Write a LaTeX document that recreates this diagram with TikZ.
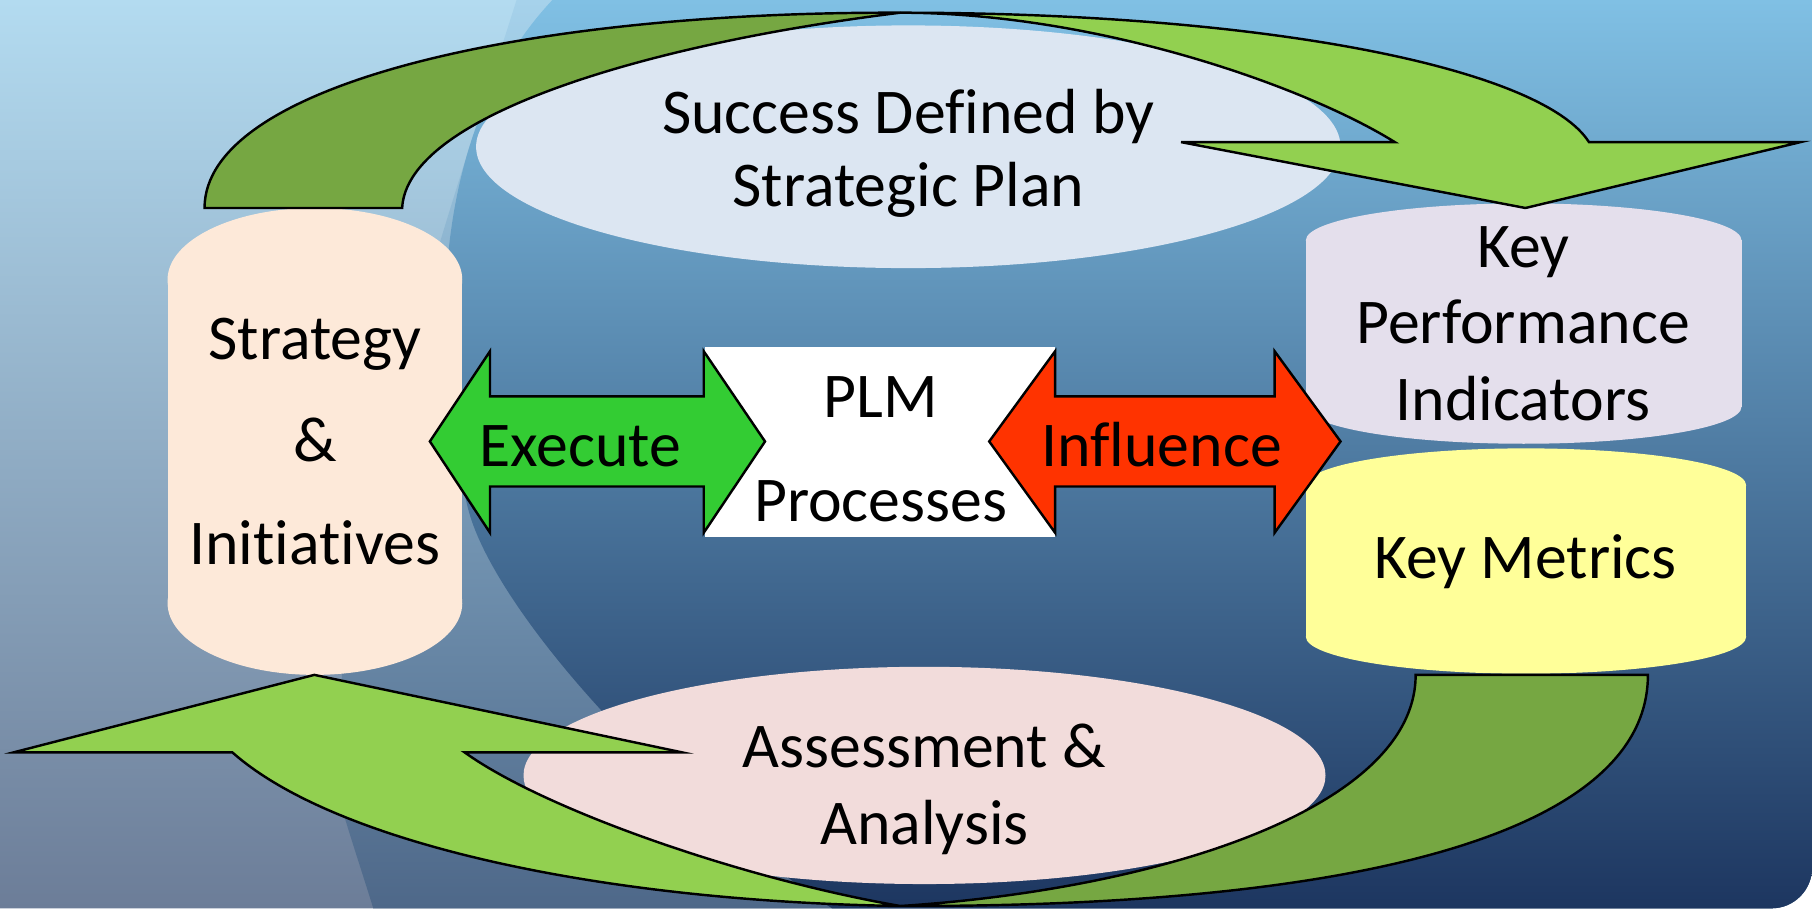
\documentclass[tikz,border=0pt]{standalone}
\usepackage{fontspec}
\setmainfont{Carlito}[Ligatures=NoCommon]
\usetikzlibrary{positioning}

\definecolor{skyA1}{HTML}{B3DBF0}
\definecolor{skyA2}{HTML}{93B0C9}
\definecolor{skyA3}{HTML}{6C7D98}
\definecolor{skyB1}{HTML}{A6D2EB}
\definecolor{skyB2}{HTML}{7FA3C0}
\definecolor{skyB3}{HTML}{4E6889}
\definecolor{skyC1}{HTML}{80C0E4}
\definecolor{skyC2}{HTML}{5281AA}
\definecolor{skyC3}{HTML}{1D3660}
\definecolor{planblue}{HTML}{DCE6F2}
\definecolor{assesspink}{HTML}{F2DCDB}
\definecolor{stratfill}{HTML}{FDE9D9}
\definecolor{kpifill}{HTML}{E4DFEC}
\definecolor{metricfill}{HTML}{FFFF99}
\definecolor{leafdark}{HTML}{76A742}
\definecolor{leaflight}{HTML}{92D050}
\definecolor{execgreen}{HTML}{33CC33}
\definecolor{influred}{HTML}{FF3300}

\begin{document}
\begin{tikzpicture}[outline/.style={draw=black,line width=0.6pt,line join=miter},
                    lbl/.style={font=\fontsize{15.7}{#1}\selectfont,align=center,inner sep=0pt},
                    lbl/.default=18]
\useasboundingbox (0,0) rectangle (15.68,-7.86);

% background
\begin{scope}
    \clip (0,0) -- (15.68,0) -- (15.68,-7.51) arc[start angle=0,end angle=-90,radius=0.35] -- (0,-7.86) -- cycle;
    \shade[top color=skyA1,middle color=skyA2,bottom color=skyA3] (0,0) rectangle (15.68,-7.86);
    \shade[top color=skyB1,middle color=skyB2,bottom color=skyB3] (4.47,0) .. controls (4.00,-1.50) and (2.70,-5.20) .. (2.96,-7.00)
        .. controls (3.05,-7.30) and (3.15,-7.60) .. (3.23,-7.86) -- (15.68,-7.86) -- (15.68,0) -- cycle;
    \shade[top color=skyC1,middle color=skyC2,bottom color=skyC3] (4.78,0) .. controls (3.65,-1.20) and (3.75,-3.20) .. (4.05,-4.40)
        .. controls (4.25,-5.20) and (5.60,-6.80) .. (7.20,-7.86) -- (15.68,-7.86) -- (15.68,0) -- cycle;
\end{scope}

% ellipses
\fill[planblue] (7.86,-1.27) ellipse [x radius=3.74, y radius=1.05];
\node[lbl=18] (success) at (7.86,-1.33) {Success Defined by\\Strategic Plan};
\fill[assesspink] (8.00,-6.71) ellipse [x radius=3.47, y radius=0.94];
\node[lbl=19] (assess) at (8.00,-6.83) {Assessment \&\\Analysis};

% cans
\fill[stratfill] (2.725,-2.42) ellipse [x radius=1.275, y radius=0.62];
\fill[stratfill] (1.45,-2.42) rectangle (4.00,-5.22);
\fill[stratfill] (2.725,-5.22) ellipse [x radius=1.275, y radius=0.62];
\node[lbl=25.3] (strat) at (2.725,-3.82) {Strategy\\\&\\Initiatives};

\fill[kpifill] (13.185,-2.08) ellipse [x radius=1.885, y radius=0.32];
\fill[kpifill] (11.30,-2.08) rectangle (15.07,-3.52);
\fill[kpifill] (13.185,-3.52) ellipse [x radius=1.885, y radius=0.32];
\node[lbl=18.8] (kpi) at (13.18,-2.80) {Key\\Performance\\Indicators};

\fill[metricfill] (13.205,-4.20) ellipse [x radius=1.905, y radius=0.32];
\fill[metricfill] (11.30,-4.20) rectangle (15.11,-5.51);
\fill[metricfill] (13.205,-5.51) ellipse [x radius=1.905, y radius=0.32];
\node[lbl,anchor=base] (metrics) at (13.20,-5.01) {Key Metrics};

% plm box
\fill[white] (6.10,-3.00) rectangle (9.13,-4.65);
\node[lbl=25.6] (plm) at (7.62,-3.89) {PLM\\Processes};

% double arrows
\draw[outline,fill=execgreen] (3.72,-3.82) -- (4.24,-3.04) -- (4.24,-3.43) -- (6.09,-3.43) -- (6.09,-3.04) -- (6.62,-3.82)
    -- (6.09,-4.61) -- (6.09,-4.21) -- (4.24,-4.21) -- (4.24,-4.61) -- cycle;
\node[lbl,anchor=base] (execute) at (5.02,-4.04) {Execute};
\draw[outline,fill=influred] (8.56,-3.82) -- (9.13,-3.04) -- (9.13,-3.43) -- (11.03,-3.43) -- (11.03,-3.04) -- (11.60,-3.82)
    -- (11.03,-4.61) -- (11.03,-4.21) -- (9.13,-4.21) -- (9.13,-4.61) -- cycle;
\node[lbl,anchor=base] (influence) at (10.05,-4.04) {Influence};

% curved arrows
\draw[outline,fill=leafdark] (1.77,-1.80) .. controls (1.77,-0.75) and (4.47,-0.10) .. (7.79,-0.11)
    .. controls (5.60,-0.38) and (3.52,-1.00) .. (3.48,-1.80) -- cycle;
\draw[outline,fill=leaflight] (7.79,-0.11) .. controls (11.00,-0.11) and (13.35,-0.60) .. (13.75,-1.23)
    -- (15.58,-1.23) -- (13.20,-1.80) -- (10.22,-1.23) -- (12.07,-1.23)
    .. controls (11.30,-0.75) and (9.50,-0.11) .. (7.79,-0.11) -- cycle;
\draw[outline,fill=leafdark] (14.26,-5.84) .. controls (14.26,-7.20) and (11.80,-7.85) .. (7.79,-7.84)
    .. controls (10.00,-7.70) and (12.25,-7.00) .. (12.25,-5.84) -- cycle;
\draw[outline,fill=leaflight] (7.79,-7.84) .. controls (5.20,-7.80) and (2.90,-7.30) .. (2.01,-6.51)
    -- (0.12,-6.51) -- (2.72,-5.84) -- (5.90,-6.51) -- (4.02,-6.51)
    .. controls (4.70,-7.00) and (6.40,-7.60) .. (7.79,-7.84) -- cycle;
\end{tikzpicture}
\end{document}
